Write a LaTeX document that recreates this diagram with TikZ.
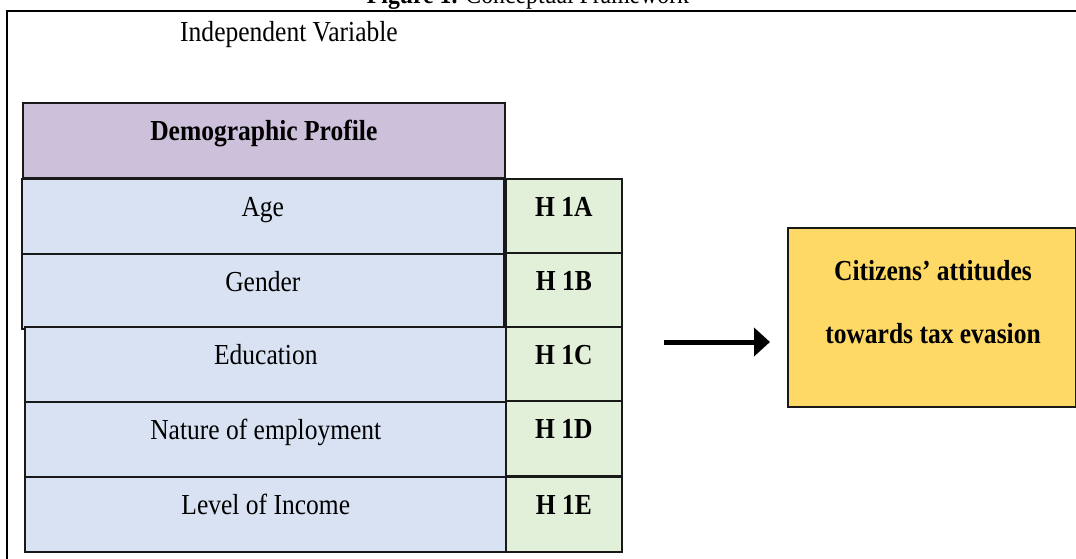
\documentclass[tikz,border=0pt]{standalone}
\usepackage{fontspec}
\setmainfont{Liberation Serif}[FakeStretch=0.88]
\usetikzlibrary{arrows.meta}
\definecolor{headpurple}{HTML}{CCC0DA}
\definecolor{rowblue}{HTML}{D9E2F3}
\definecolor{hypgreen}{HTML}{E2EFD9}
\definecolor{goalyellow}{HTML}{FFD966}
\newcommand{\cellfont}{\fontsize{29}{34}\selectfont}
\tikzset{
  cell/.style={draw=black!90, line width=1.6pt, anchor=north west, inner sep=0pt,
    font=\cellfont, text height=38pt, text depth=37pt},
  headcell/.style={cell, fill=headpurple, minimum width=482pt, font=\cellfont\bfseries},
  varcell/.style={cell, fill=rowblue, minimum width=482pt},
  hypcell/.style={cell, fill=hypgreen, minimum width=116pt, font=\cellfont\bfseries},
  goalbox/.style={draw=black!90, line width=1.6pt, fill=goalyellow, anchor=north west,
    minimum width=288pt, minimum height=179pt, inner sep=0pt}
}
\begin{document}
\begin{tikzpicture}[x=1pt, y=-1pt]
  \useasboundingbox (0,0) rectangle (1076,559);
  \clip (0,0) rectangle (1076,559);
  % caption, cut by the top edge
  \node[anchor=base, font=\fontsize{27}{30}\selectfont] (caption) at (528,4)
    {\textbf{Figure 1.} Conceptual Framework};
  \draw[line width=2pt] (7,600) -- (7,11) -- (1100,11);
  \node[anchor=base, font=\cellfont] (indep) at (289,42) {Independent Variable};
  % left column
  \node[headcell] (demo) at (22,102) {Demographic Profile};
  \node[varcell] (age) at (21,178) {Age};
  \node[varcell] (gender) at (21,253) {Gender};
  \node[varcell] (edu) at (24,326) {Education};
  \node[varcell] (job) at (24,401) {Nature of employment};
  \node[varcell] (income) at (24,476) {Level of Income};
  % hypotheses
  \node[hypcell] (h1a) at (505,178) {H 1A};
  \node[hypcell] (h1b) at (505,252) {H 1B};
  \node[hypcell] (h1c) at (505,326) {H 1C};
  \node[hypcell] (h1d) at (505,400) {H 1D};
  \node[hypcell] (h1e) at (505,476) {H 1E};
  % dependent variable
  \node[goalbox] (goal) at (787,227) {};
  \node[align=center, font=\fontsize{29}{63}\selectfont\bfseries] (goaltext) at (933,302)
    {Citizens’ attitudes\\towards tax evasion};
  \coordinate (tail) at (664,342);
  \coordinate (tip) at (770,342);
  \draw[line width=5pt, -{Triangle[length=16pt,width=28pt]}] (tail) -- (tip);
\end{tikzpicture}
\end{document}
